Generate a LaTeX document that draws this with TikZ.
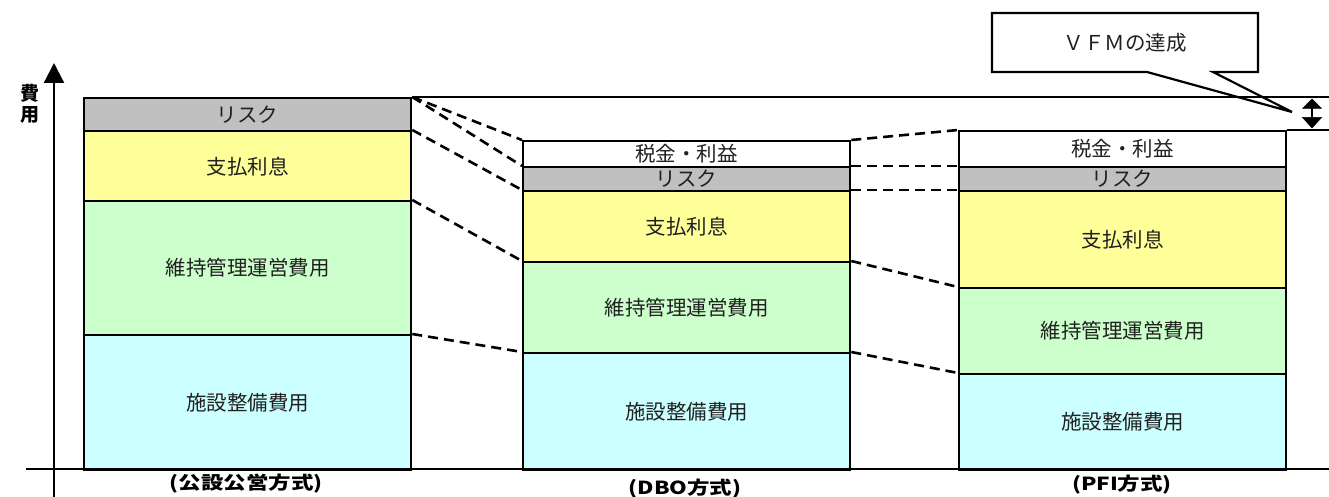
\documentclass[tikz,border=0pt]{standalone}
\usepackage{fontspec}
\setmainfont{Noto Sans CJK JP}
\usetikzlibrary{arrows.meta}
\definecolor{cgrey}{HTML}{C0C0C0}
\definecolor{cyel}{HTML}{FFFF99}
\definecolor{cgrn}{HTML}{CCFFCC}
\definecolor{ccyan}{HTML}{CCFFFF}
\definecolor{txt}{HTML}{202020}
\begin{document}
\begin{tikzpicture}[x=1pt,y=-1pt,
  seg/.style={draw=black, line width=2.3pt, minimum width=327pt, anchor=north west,
    inner sep=0pt, font=\fontsize{20.5}{21}\selectfont, text=txt},
  conn/.style={line width=2.6pt, dash pattern=on 10pt off 6pt},
  solidline/.style={line width=2.2pt},
  headtri/.style={fill=black, draw=black, line width=0.5pt, line join=miter},
  caption/.style={font=\bfseries\fontsize{18}{20}\selectfont, text=black, inner sep=0pt}]
\useasboundingbox (0,0) rectangle (1329,497);
% column 1
\node[seg, fill=ccyan, minimum height=135pt] (a4) at (83,334) {施設整備費用};
\node[seg, fill=cgrn, minimum height=134pt] (a3) at (83,200) {維持管理運営費用};
\node[seg, fill=cyel, minimum height=70pt] (a2) at (83,130) {支払利息};
\node[seg, fill=cgrey, minimum height=33pt] (a1) at (83,97) {リスク};
% column 2
\node[seg, fill=ccyan, minimum height=117pt] (b5) at (522,352) {施設整備費用};
\node[seg, fill=cgrn, minimum height=91pt] (b4) at (522,261) {維持管理運営費用};
\node[seg, fill=cyel, minimum height=71pt] (b3) at (522,190) {支払利息};
\node[seg, fill=cgrey, minimum height=24pt] (b2) at (522,166) {リスク};
\node[seg, fill=white, minimum height=26pt] (b1) at (522,140) {税金・利益};
% column 3
\node[seg, fill=ccyan, minimum height=96pt] (c5) at (958,373) {施設整備費用};
\node[seg, fill=cgrn, minimum height=86pt] (c4) at (958,287) {維持管理運営費用};
\node[seg, fill=cyel, minimum height=97pt] (c3) at (958,190) {支払利息};
\node[seg, fill=cgrey, minimum height=24pt] (c2) at (958,166) {リスク};
\node[seg, fill=white, minimum height=36pt] (c1) at (958,130) {税金・利益};
% dashed connectors
\draw[conn] (a1.north east) -- (b1.north west);
\draw[conn] (a1.north east) -- (b2.north west);
\draw[conn] (a2.north east) -- (b3.north west);
\draw[conn] (a3.north east) -- (b4.north west);
\draw[conn] (a4.north east) -- (b5.north west);
\draw[conn] (b1.north east) -- (c1.north west);
\draw[conn] (b2.north east) -- (c2.north west);
\draw[conn] (b3.north east) -- (c3.north west);
\draw[conn] (b4.north east) -- (c4.north west);
\draw[conn] (b5.north east) -- (c5.north west);
% callout
\coordinate (tip) at (1292,112);
\draw[line width=2.2pt, fill=white] (992,13) -- (1258,13) -- (1258,72) -- (1213,72) -- (tip) -- (1147,72) -- (992,72) -- cycle;
\node[font=\fontsize{20.5}{21}\selectfont, text=txt] (vfm) at (1125,43) {ＶＦＭの達成};
% reference lines and VFM arrow
\coordinate (rtop) at (1329,97);
\coordinate (rbot) at (1329,130);
\draw[solidline] (a1.north east) -- (rtop);
\draw[solidline] (c1.north east) -- (rbot);
\draw[line width=2.4pt] (1312,107) -- (1312,119);
\draw[headtri] (1312,99) -- (1321.5,108.5) -- (1302.5,108.5) -- cycle;
\draw[headtri] (1312,128) -- (1321.5,117.5) -- (1302.5,117.5) -- cycle;
% axes
\coordinate (ybot) at (54,497);
\coordinate (ytop) at (54,63);
\coordinate (xl) at (26,469);
\coordinate (xr) at (1329,469);
\draw[line width=2.2pt, -{Triangle[width=20pt,length=20pt]}] (ybot) -- (ytop);
\draw[line width=2.6pt] (xl) -- (xr);
\node[font=\bfseries\fontsize{19}{20}\selectfont, align=center, inner sep=0pt] (ylab) at (30,104) {費\\[1pt]用};
% captions
\node[caption] (capa) at (246,484) {\scalebox{1.25}[1]{(公設公営方式)}};
\node[caption] (capb) at (685,489) {\scalebox{1.25}[1]{(DBO方式)}};
\node[caption] (capc) at (1122,485) {\scalebox{1.25}[1]{(PFI方式)}};
\end{tikzpicture}
\end{document}
